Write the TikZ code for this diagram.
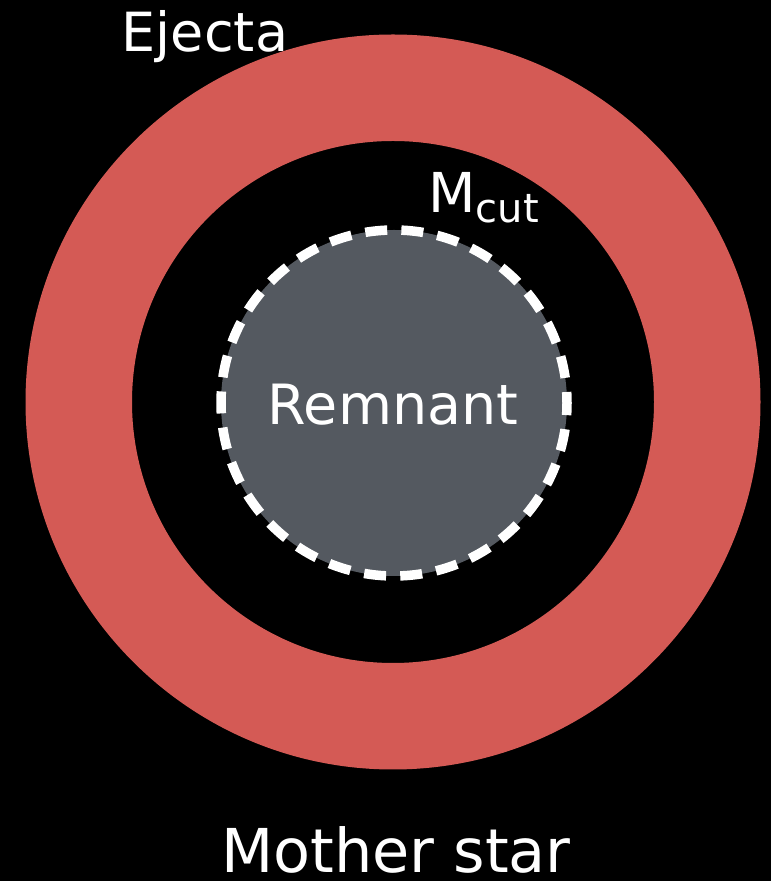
\documentclass[tikz,border=0pt]{standalone}
\usepackage{fontspec}
\setmainfont{DejaVu Sans}
\definecolor{ejred}{RGB}{212,90,85}
\definecolor{remgray}{RGB}{84,89,96}
\begin{document}
\begin{tikzpicture}[x=1pt,y=1pt,
  lbl/.style={text=white,inner sep=0pt,anchor=base}]
\fill[black] (0,0) rectangle (771,881);
\useasboundingbox (0,0) rectangle (771,881);
\coordinate (c) at (393,479);
\coordinate (r) at (394,478);
\fill[ejred,even odd rule] (c) circle (367.5) (c) circle (261);
\fill[remgray] (r) circle (173);
\draw[white,line width=9.5pt,dash pattern=on 22pt off 14.2pt,dash phase=11pt] (r) circle (173);
\node[lbl,font=\fontsize{54}{60}\selectfont] (ejecta) at (205,829) {Ejecta};
\node[lbl,font=\fontsize{55.5}{62}\selectfont] (remnant) at (393,456) {Remnant};
\node[lbl,font=\fontsize{60.5}{66}\selectfont] (mother) at (396,9) {Mother star};
\node[lbl,anchor=base west] (mcut) at (428,668) {\fontsize{55}{60}\selectfont M\fontsize{40}{44}\selectfont\raisebox{-10pt}{cut}};
\end{tikzpicture}
\end{document}
